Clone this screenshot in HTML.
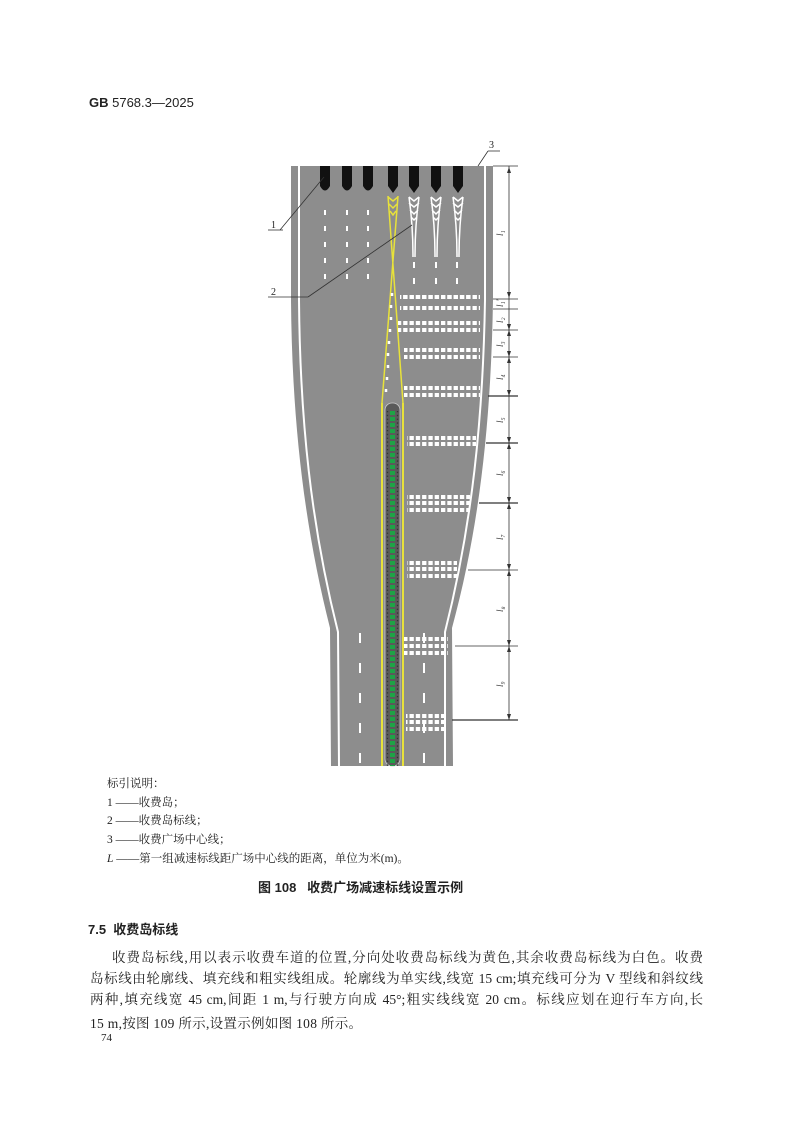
<!DOCTYPE html>
<html><head><meta charset="utf-8"><style>
body{margin:0;background:#fff;}
.pg{position:relative;width:793px;height:1122px;overflow:hidden;font-family:"Liberation Serif","Noto Serif CJK SC","Noto Sans CJK SC",serif;color:#222;}
.t{position:absolute;white-space:nowrap;}
.lg{font-size:11.5px;left:107px;}
.bl{position:absolute;left:90px;width:613px;font-size:13.5px;text-align:justify;text-align-last:justify;white-space:nowrap;line-height:16px;}
</style></head><body><div class="pg">
<div class="t" style="left:89px;top:95px;font-size:13px;font-family:'Liberation Sans','Noto Sans CJK SC',sans-serif;"><b>GB</b> 5768.3—2025</div>

<svg width="793" height="780" style="position:absolute;left:0;top:0" xmlns="http://www.w3.org/2000/svg">
<path d="M291,166 L493,166 L493,300 C491,420 480,525 452,628 L453,766 L331,766 L330,628 C304,525 292,420 291,300 Z" fill="#8d8d8d"/>
<path d="M299,166 L299,300 C300,420 311,525 338,632 L339,766" fill="none" stroke="#fff" stroke-width="2"/>
<path d="M485,166 L485,300 C483,420 472,525 445,632 L445,766" fill="none" stroke="#fff" stroke-width="2"/>
<!-- booths -->
<g fill="#111">
<path d="M320,166h10v20q-5,9 -10,0z"/><path d="M342,166h10v20q-5,9 -10,0z"/><path d="M363,166h10v20q-5,9 -10,0z"/>
<path d="M388,166h10v20l-5,7l-5,-7z"/><path d="M409,166h10v20l-5,7l-5,-7z"/><path d="M431,166h10v20l-5,7l-5,-7z"/><path d="M453,166h10v20l-5,7l-5,-7z"/>
</g>
<!-- white island markings -->
<g fill="none" stroke="#fff" stroke-width="1.5">
<path d="M409,197 L414,201 L419,197 M409,203 L414,207 L419,203 M410,210 L414,214 L418,210 M411,217 L414,220 L417,217 M409,197 Q413,225 413,257 M419,197 Q415,225 415,257"/>
<path d="M431,197 L436,201 L441,197 M431,203 L436,207 L441,203 M432,210 L436,214 L440,210 M433,217 L436,220 L439,217 M431,197 Q435,225 435,257 M441,197 Q437,225 437,257"/>
<path d="M453,197 L458,201 L463,197 M453,203 L458,207 L463,203 M454,210 L458,214 L462,210 M455,217 L458,220 L461,217 M453,197 Q457,225 457,257 M463,197 Q459,225 459,257"/>
</g>
<!-- yellow -->
<g fill="none" stroke="#e8e23a" stroke-width="1.5">
<path d="M388,197 L393,201 L398,197 M389,204 L393,208 L397,204 M390,211 L393,215 L396,211"/>
<path d="M388,196 L403,403 M398,196 L382,403"/>
<line x1="382" y1="403" x2="382" y2="766" stroke-width="2"/><line x1="403" y1="403" x2="403" y2="766" stroke-width="2"/>
</g>
<g stroke="#fff" stroke-width="2">
<path d="M325,210v5M325,226v5M325,242v5M325,258v5M325,274v5 M347,210v5M347,226v5M347,242v5M347,258v5M347,274v5 M368,210v5M368,226v5M368,242v5M368,258v5M368,274v5 M414,262v6M414,278v6M436,262v6M436,278v6M457,262v6M457,278v6"/>
<path d="M392,293v3M391,305v3M391,317v3M390,329v3M389,341v3M388,353v3M388,365v3M387,377v3M386,389v3" stroke-width="2.5"/>
<path d="M360,633v10M360,663v10M360,693v10M360,723v10M360,753v10 M424,633v10M424,663v10M424,693v10M424,723v10M424,753v10"/>
</g>
<!-- island -->
<rect x="385" y="403" width="15" height="363" rx="7" fill="#5a5a5a" stroke="#ccc" stroke-width="0.8"/>
<line x1="392.5" y1="411" x2="392.5" y2="766" stroke="#1ea346" stroke-width="5" stroke-dasharray="4 2"/>
<line x1="387.5" y1="411" x2="387.5" y2="766" stroke="#333" stroke-width="1.3" stroke-dasharray="1.3 2.5"/>
<line x1="397.5" y1="411" x2="397.5" y2="766" stroke="#333" stroke-width="1.3" stroke-dasharray="1.3 2.5"/>
<!-- deceleration squares -->
<g fill="#fff">
<rect x="400" y="295" width="80" height="4" fill="url(#sq)"/>
</g>
<defs><pattern id="sq" x="0" y="0" width="6.3" height="100" patternUnits="userSpaceOnUse"><rect width="4.3" height="100" fill="#fff"/></pattern></defs>
<g fill="url(#sq)">
<rect x="400" y="295" width="80" height="4"/><rect x="400" y="306" width="80" height="4"/>
<rect x="398" y="321" width="82" height="4"/><rect x="398" y="328" width="82" height="4"/>
<rect x="404" y="348" width="76" height="4"/><rect x="404" y="355" width="76" height="4"/>
<rect x="404" y="386" width="76" height="4"/><rect x="404" y="393" width="76" height="4"/>
<rect x="407" y="436" width="69" height="4"/><rect x="407" y="442" width="69" height="4"/>
<rect x="407" y="495" width="63" height="4"/><rect x="407" y="501" width="63" height="4"/><rect x="407" y="508" width="63" height="4"/>
<rect x="407" y="561" width="50" height="4"/><rect x="407" y="567" width="50" height="4"/><rect x="407" y="574" width="50" height="4"/>
<rect x="404" y="637" width="44" height="4"/><rect x="404" y="644" width="44" height="4"/><rect x="404" y="651" width="44" height="4"/>
<rect x="406" y="714" width="38" height="4"/><rect x="406" y="720" width="38" height="4"/><rect x="406" y="727" width="38" height="4"/>
</g>
<!-- dimensions -->
<g stroke="#333" stroke-width="0.8" fill="none">
<line x1="493" y1="166" x2="518" y2="166"/>
<line x1="509" y1="166" x2="509" y2="720"/>
<line x1="493" y1="299" x2="518" y2="299"/><line x1="493" y1="309" x2="518" y2="309"/>
<line x1="493" y1="330" x2="518" y2="330"/><line x1="493" y1="357" x2="518" y2="357"/>
<line x1="488" y1="396" x2="518" y2="396" stroke-width="1.2"/><line x1="486" y1="443" x2="518" y2="443" stroke-width="1.2"/>
<line x1="479" y1="503" x2="518" y2="503" stroke-width="1.2"/><line x1="468" y1="570" x2="518" y2="570"/>
<line x1="455" y1="646" x2="518" y2="646"/><line x1="452" y1="720" x2="518" y2="720" stroke-width="1.2"/>
<line x1="280" y1="230" x2="324" y2="177"/><line x1="268" y1="230" x2="283" y2="230"/>
<line x1="268" y1="297" x2="308" y2="297"/><line x1="308" y1="297" x2="412" y2="225"/>
<line x1="478" y1="166" x2="488" y2="151"/><line x1="488" y1="151" x2="500" y2="151"/>
</g>
<g fill="#333">
<path d="M509,167l-2,6h4z M509,298l-2,-6h4z M509,396l-2,-6h4z M509,443l-2,6h4z M509,443l-2,-6h4z M509,503l-2,-6h4z M509,503l-2,6h4z M509,570l-2,-6h4z M509,570l-2,6h4z M509,646l-2,-6h4z M509,646l-2,6h4z M509,720l-2,-6h4z M509,357l-2,6h4z M509,357l-2,-6h4z M509,330l-2,6h4z M509,330l-2,-6h4z"/>
</g>
<g font-family="Liberation Serif,serif" font-style="italic" font-size="9" fill="#333">
<text transform="translate(503,236) rotate(-90)">l₁</text>
<text transform="translate(503,307) rotate(-90)">l₁'</text>
<text transform="translate(503,323) rotate(-90)">l₂</text>
<text transform="translate(503,347) rotate(-90)">l₃</text>
<text transform="translate(503,380) rotate(-90)">l₄</text>
<text transform="translate(503,423) rotate(-90)">l₅</text>
<text transform="translate(503,476) rotate(-90)">l₆</text>
<text transform="translate(503,540) rotate(-90)">l₇</text>
<text transform="translate(503,612) rotate(-90)">l₈</text>
<text transform="translate(503,687) rotate(-90)">l₉</text>
</g>
<g font-family="Liberation Serif,serif" font-size="10" fill="#222">
<text x="271" y="228">1</text><text x="271" y="295">2</text><text x="489" y="148">3</text>
</g>
</svg>

<div class="t lg" style="top:775px">标引说明：</div>
<div class="t lg" style="top:794px">1 ——收费岛；</div>
<div class="t lg" style="top:812px">2 ——收费岛标线；</div>
<div class="t lg" style="top:831px">3 ——收费广场中心线；</div>
<div class="t lg" style="top:850px"><i>L</i> ——第一组减速标线距广场中心线的距离，单位为米(m)。</div>
<div class="t" style="left:258px;top:877px;font-size:13px;font-weight:bold;font-family:'Liberation Sans','Noto Sans CJK SC',sans-serif;">图 108 &nbsp;&nbsp;收费广场减速标线设置示例</div>
<div class="t" style="left:88px;top:919px;font-size:13px;font-weight:bold;font-family:'Liberation Sans','Noto Sans CJK SC',sans-serif;">7.5 &nbsp;收费岛标线</div>
<div class="bl" style="top:950px;left:112px;width:591px">收费岛标线,用以表示收费车道的位置,分向处收费岛标线为黄色,其余收费岛标线为白色。收费</div>
<div class="bl" style="top:971px">岛标线由轮廓线、填充线和粗实线组成。轮廓线为单实线,线宽 15 cm;填充线可分为 V 型线和斜纹线</div>
<div class="bl" style="top:992px">两种,填充线宽 45 cm,间距 1 m,与行驶方向成 45°;粗实线线宽 20 cm。标线应划在迎行车方向,长</div>
<div class="t" style="left:90px;top:1012px;font-size:13.5px;letter-spacing:0.3px">15 m,按图 109 所示,设置示例如图 108 所示。</div>
<div class="t" style="left:101px;top:1032px;font-size:11px">74</div>
</div></body></html>
